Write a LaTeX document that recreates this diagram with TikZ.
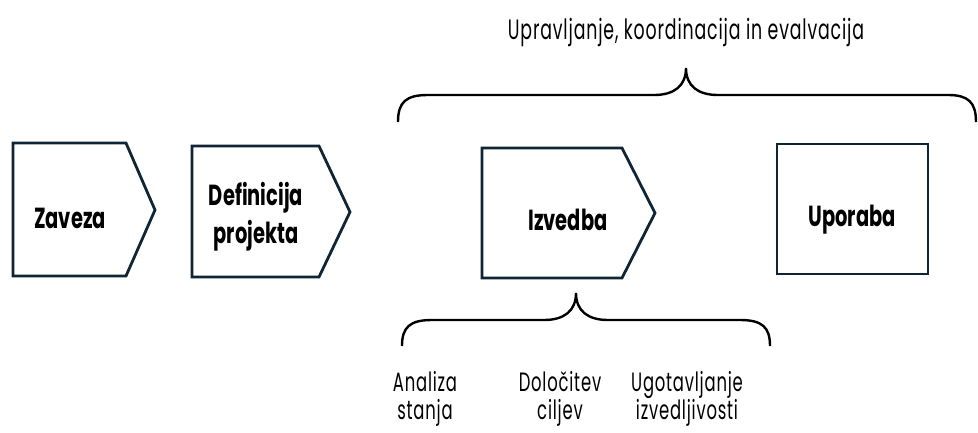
\documentclass[tikz,border=0pt]{standalone}
\usepackage{fontspec}
\setmainfont{Poppins}
\newfontfamily\lblfont{Poppins}[FakeStretch=0.62,LetterSpace=3]
\newfontfamily\boxfont{Poppins}[FakeStretch=0.67]
\definecolor{navy}{HTML}{0F2535}
\begin{document}
\begin{tikzpicture}[x=1pt,y=-1pt,
  boxline/.style={draw=navy,line width=2.8pt,line join=miter},
  bracel/.style={draw=black,line width=2.4pt},
  lbl/.style={font=\lblfont\fontsize{28}{29}\selectfont,text=black,align=center,inner sep=0pt},
  blbl/.style={font=\boxfont\bfseries\fontsize{29}{38}\selectfont,text=black,align=center,inner sep=0pt},
  sub/.style={font=\lblfont\fontsize{26.5}{28}\selectfont,text=black,align=center,inner sep=0pt}]
\useasboundingbox (0,0) rectangle (978,432);
% boxes
\draw[boxline] (13,143) -- (126,143) -- (155,210) -- (126,276) -- (13,276) -- cycle;
\draw[boxline] (192,146) -- (319,146) -- (350,212) -- (319,277) -- (192,277) -- cycle;
\draw[boxline] (482,148) -- (622,148) -- (655,213) -- (622,278) -- (482,278) -- cycle;
\draw[boxline] (777,144) rectangle (928,274);
\node[blbl] (zav) at (70,218) {Zaveza};
\node[blbl] (def) at (256,217) {Definicija\\projekta};
\node[blbl] (izv) at (568,220) {Izvedba};
\node[blbl] (upo) at (852,220) {Uporaba};
% top brace
\node[lbl] (top) at (686,32) {Upravljanje, koordinacija in evalvacija};
\coordinate (tc) at (686,68);
\coordinate (tl) at (398,122);
\coordinate (tr) at (976,122);
\draw[bracel] (tl) .. controls (398,102) and (406,95) .. (428,95) -- (654,95)
  .. controls (674,95) and (686,86) .. (tc)
  .. controls (686,86) and (698,95) .. (718,95) -- (948,95)
  .. controls (968,95) and (976,102) .. (tr);
% bottom brace
\coordinate (bc) at (576,293);
\coordinate (bl) at (402,346);
\coordinate (br) at (770,346);
\draw[bracel] (bl) .. controls (402,327) and (410,320) .. (432,320) -- (544,320)
  .. controls (564,320) and (576,311) .. (bc)
  .. controls (576,311) and (588,320) .. (608,320) -- (740,320)
  .. controls (762,320) and (770,327) .. (br);
\node[sub] (a1) at (425,399) {Analiza\\stanja};
\node[sub] (a2) at (560,399) {Določitev\\ciljev};
\node[sub] (a3) at (687,399) {Ugotavljanje\\izvedljivosti};
\end{tikzpicture}
\end{document}
